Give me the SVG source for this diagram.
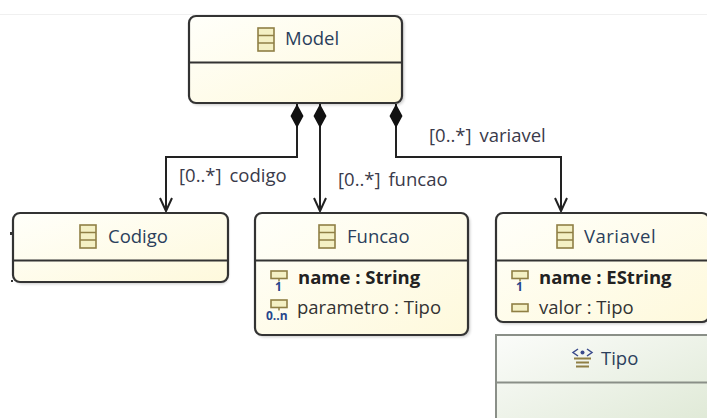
<svg xmlns="http://www.w3.org/2000/svg" width="707" height="418" viewBox="0 0 707 418">
<style>
.box{stroke:#333;stroke-width:2.2}
.div{stroke:#333;stroke-width:2}
.shadow{fill:#000;opacity:.22;filter:url(#blur)}
text{font-family:"Open Sans","Noto Sans","DejaVu Sans",sans-serif;font-size:18.5px}
.title{fill:#2b3f5c}
.lbl{fill:#3a3a4a;word-spacing:3px}
.b{font-weight:700;fill:#222}
.attr{fill:#333}
.conn{fill:none;stroke:#222;stroke-width:2}
.ico{fill:#f4f0c4;stroke:#8f7f45;stroke-width:1.6}
.mul{fill:#25468c;font-size:12px;font-weight:700}
</style>
<defs>
<linearGradient id="y" x1="0" y1="0" x2="1" y2="1"><stop offset="0" stop-color="#fffffa"/><stop offset="1" stop-color="#fef9dc"/></linearGradient>
<linearGradient id="g" x1="0" y1="0" x2="1" y2="1"><stop offset="0" stop-color="#fbfcfa"/><stop offset="1" stop-color="#dfe9d6"/></linearGradient>
<filter id="blur" x="-10%" y="-10%" width="120%" height="120%"><feGaussianBlur stdDeviation="1.5"/></filter>
<g id="cls"><rect x="0" y="0" width="16" height="23" class="ico"/><path d="M0 7.500H16M0 15H16" stroke="#8f7f45" stroke-width="1.500"/></g>
<g id="att"><rect x="0" y="0" width="16" height="7.500" class="ico"/></g>
</defs>
<rect width="707" height="418" fill="#fff"/>
<path d="M0 14.500H707" stroke="#f0f0f0"/>
<g id="connectors">
<path class="conn" d="M297 104V157H166V211"/>
<path class="conn" d="M320 104V211"/>
<path class="conn" d="M396 104V157H561V211"/>
<path d="M297 104l6.500 12-6.500 12-6.500-12zM320 104l6.500 12-6.500 12-6.500-12zM396 104l6.500 12-6.500 12-6.500-12z" fill="#111"/>
<path class="conn" d="M160 198l6 13 6-13M314 198l6 13 6-13M555 198l6 13 6-13"/>
<text class="lbl" x="179" y="182">[0..*] codigo</text>
<text class="lbl" x="338" y="186">[0..*] funcao</text>
<text class="lbl" x="429" y="142">[0..*] variavel</text>
</g>
<g id="Model">
<rect class="shadow" x="191" y="17" width="213" height="88" rx="7"/>
<rect class="box" x="189" y="16" width="213" height="87" rx="7" fill="url(#y)"/>
<path class="div" d="M190 62.500H401"/>
<use href="#cls" x="258" y="28"/>
<text class="title" x="285" y="45">Model</text>
</g>
<g id="Codigo">
<rect class="shadow" x="15" y="215" width="213" height="69" rx="7"/>
<rect class="box" x="13" y="213" width="215" height="69" rx="7" fill="url(#y)"/>
<path class="div" d="M14 260.500H227"/>
<use href="#cls" x="80" y="225"/>
<text class="title" x="108" y="243">Codigo</text>
<path d="M11 232v3M11 281h2" stroke="#333" stroke-width="2"/>
</g>
<g id="Funcao">
<rect class="shadow" x="257" y="215" width="213" height="122" rx="7"/>
<rect class="box" x="255" y="213" width="213" height="122" rx="7" fill="url(#y)"/>
<path class="div" d="M256 260.500H467"/>
<use href="#cls" x="319" y="225"/>
<text class="title" x="347" y="243">Funcao</text>
<use href="#att" x="271" y="271"/>
<path d="M279 278.500v3" stroke="#8f7f45" stroke-width="1.500"/>
<text class="mul" x="275" y="291">1</text>
<text class="b" x="298" y="284">name : String</text>
<use href="#att" x="271" y="300"/>
<path d="M279 307.500v3" stroke="#8f7f45" stroke-width="1.500"/>
<text class="mul" x="266" y="320">0..n</text>
<text class="attr" x="297" y="314">parametro : Tipo</text>
</g>
<g id="Variavel">
<rect class="shadow" x="498" y="215" width="211" height="109" rx="7"/>
<rect class="box" x="496" y="213" width="213" height="109" rx="7" fill="url(#y)"/>
<path class="div" d="M497 260.500H707"/>
<use href="#cls" x="557" y="225"/>
<text class="title" x="584" y="243" letter-spacing=".5">Variavel</text>
<use href="#att" x="512" y="271"/>
<path d="M520 278.500v3" stroke="#8f7f45" stroke-width="1.500"/>
<text class="mul" x="516" y="291">1</text>
<text class="b" x="539" y="284">name : EString</text>
<use href="#att" x="512" y="304"/>
<text class="attr" x="539" y="314">valor : Tipo</text>
</g>
<g id="Tipo">
<rect x="496" y="335" width="213" height="90" fill="url(#g)" stroke="#8a8f88" stroke-width="2"/>
<path d="M497 382.500H707" stroke="#8a8f88" stroke-width="2"/>
<path d="M574 358.500h17M576 362.500h13M576 366.500h13" fill="none" stroke="#8f7f45" stroke-width="1.800"/>
<path d="M578 349l-5 3.500 5 3.500M587 349l5 3.500-5 3.500" stroke="#3a4a8c" stroke-width="1.500" fill="none"/><circle cx="582.500" cy="352.500" r="2" fill="#3a4a8c"/>
<text class="title" x="601" y="365">Tipo</text>
</g>
</svg>
